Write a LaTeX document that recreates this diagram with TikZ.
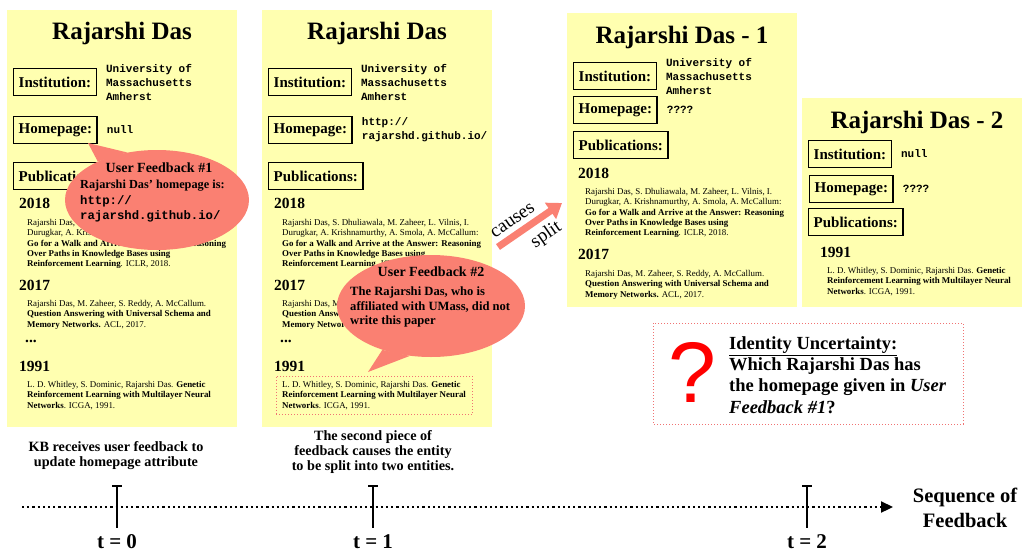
\documentclass[tikz,border=0pt]{standalone}
\usepackage{fontspec}
\setmainfont{Liberation Serif}
\setsansfont{Liberation Sans}
\setmonofont{Liberation Mono}
\usetikzlibrary{
	arrows.meta,
	positioning,
	shapes.geometric,
	fit
}
\definecolor{cardyellow}{RGB}{255,255,176}
\definecolor{salmon}{RGB}{250,128,114}
\definecolor{dotred}{RGB}{240,115,115}
\newcommand{\fs}[2]{\fontsize{#1}{#2}\selectfont}
\newcommand{\pubwalk}{Rajarshi Das, S. Dhuliawala, M. Zaheer, L. Vilnis, I.\\
Durugkar, A. Krishnamurthy, A. Smola, A. McCallum:\\
\textbf{Go for a Walk and Arrive at the Answer: Reasoning}\\
\textbf{Over Paths in Knowledge Bases using}\\
\textbf{Reinforcement Learning}. ICLR, 2018.}
\newcommand{\pubqa}{Rajarshi Das, M. Zaheer, S. Reddy, A. McCallum.\\
\textbf{Question Answering with Universal Schema and}\\
\textbf{Memory Networks.} ACL, 2017.}
\newcommand{\pubgen}{L. D. Whitley, S. Dominic, Rajarshi Das. \textbf{Genetic}\\
\textbf{Reinforcement Learning with Multilayer Neural}\\
\textbf{Networks}. ICGA, 1991.}

\begin{document}
\begin{tikzpicture}[x=1pt, y=-1pt,
		card/.style={fill=cardyellow},
		title/.style={font=\bfseries\fs{25}{30}, anchor=base},
		field/.style={draw, line width=1.4pt, font=\bfseries\fs{15}{18}, inner xsep=5pt, minimum height=27pt, anchor=west},
		val/.style={font=\ttfamily\bfseries\fs{11}{14}, align=left, anchor=west, inner sep=0pt},
		year/.style={font=\bfseries\fs{15.5}{18}, anchor=west, inner sep=0pt},
		pub/.style={font=\fs{8.9}{10.4}, align=left, anchor=north west, inner sep=0pt},
		bubble/.style={ellipse, fill=salmon, inner sep=0pt},
		fbtitle/.style={font=\bfseries\fs{14}{17}},
		fbbody/.style={font=\bfseries\fs{12.3}{15.5}, align=left, anchor=west, inner sep=0pt},
		note/.style={font=\bfseries\fs{14.2}{15}, align=center},
		tick/.style={line width=1.8pt, {Bar[width=10pt]}-},
		hint/.style={draw=dotred, dotted, line width=1pt}
	]
		\useasboundingbox (0,0) rectangle (1024,554);
		% entity cards
		\fill[card] (7,10) rectangle (237,427);
		\fill[card] (262,10) rectangle (492,427);
		\fill[card] (567,13) rectangle (797,307);
		\fill[card] (802,98) rectangle (1022,307);
		\foreach \c/\x/\home in {a/7/{null}, b/262/{http://\\rajarshd.github.io/}} {
			\node[title] (title-\c) at (\x+115,39.5) {Rajarshi Das};
			\node[field] (inst-\c) at (\x+6,82) {Institution:};
			\node[val, right=9pt of inst-\c] (instv-\c) {University of\\Massachusetts\\Amherst};
			\node[field] (home-\c) at (\x+6,130) {Homepage:};
			\node[val, right=9pt of home-\c] (homev-\c) {\home};
			\node[field] (publ-\c) at (\x+6,176) {Publications:};
			\node[year] (y18-\c) at (\x+12,203) {2018};
			\node[pub] (walk-\c) at (\x+20,219) {\pubwalk};
			\node[year] (y17-\c) at (\x+12,285) {2017};
			\node[pub] (qa-\c) at (\x+20,300) {\pubqa};
			\node[year] (more-\c) at (\x+18,341) {...};
			\node[year] (y91-\c) at (\x+12,366) {1991};
			\node[pub] (gen-\c) at (\x+20,381) {\pubgen};
		}
		\node[hint, fit=(gen-b), inner xsep=6pt, inner ysep=5pt] (genbox) {};
		% split entities
		\node[title] (title-c) at (682,43) {Rajarshi Das - 1};
		\node[field] (inst-c) at (573,76) {Institution:};
		\node[val, right=9pt of inst-c] (instv-c) {University of\\Massachusetts\\Amherst};
		\node[field] (home-c) at (573,110) {Homepage:};
		\node[val, right=9pt of home-c] (homev-c) {????};
		\node[field] (publ-c) at (573,145) {Publications:};
		\node[year] (y18-c) at (578,173) {2018};
		\node[pub] (walk-c) at (585,188) {\pubwalk};
		\node[year] (y17-c) at (578,254) {2017};
		\node[pub] (qa-c) at (585,270) {\pubqa};
		\node[title] (title-d) at (917,128) {Rajarshi Das - 2};
		\node[field] (inst-d) at (808,154) {Institution:};
		\node[val, right=9pt of inst-d] (instv-d) {null};
		\node[field] (home-d) at (809,189) {Homepage:};
		\node[val, right=9pt of home-d] (homev-d) {????};
		\node[field] (publ-d) at (808,222) {Publications:};
		\node[year] (y91-d) at (820,252) {1991};
		\node[pub] (gen-d) at (827,267) {\pubgen};
		% user feedback bubbles
		\node[bubble, minimum width=184pt, minimum height=100pt] (fb1) at (157,200) {};
		\coordinate (fb1tip) at (88,143);
		\fill[salmon] (fb1.147) -- (fb1tip) -- (fb1.122) -- cycle;
		\node[fbtitle] (fb1head) at (159,168) {User Feedback \#1};
		\node[fbbody] (fb1text) at (80,201.5) {Rajarshi Das' homepage is:\\{\ttfamily http://}\\{\ttfamily rajarshd.github.io/}};
		\node[bubble, minimum width=188pt, minimum height=102pt] (fb2) at (431,306) {};
		\coordinate (fb2tip) at (368,372);
		\fill[salmon] (fb2.222) -- (fb2tip) -- (fb2.247) -- cycle;
		\node[fbtitle] (fb2head) at (431,272) {User Feedback \#2};
		\node[fbbody, font=\bfseries\fs{12.6}{14.5}] (fb2text) at (350,307) {The Rajarshi Das, who is\\affiliated with UMass, did not\\write this paper};
		% causes split
		\coordinate (splitfrom) at (498,247);
		\coordinate (splitto) at (562,203);
		\draw[salmon, line width=7pt, -{Triangle[length=14pt, width=19pt]}] (splitfrom) -- (splitto)
			node[pos=0.35, sloped, above=2pt, text=black, font=\fs{19}{21}] (causes) {causes}
			node[pos=0.6, sloped, below=2pt, text=black, font=\fs{19}{21}] (split) {split};
		% identity uncertainty
		\draw[hint] (653,323) rectangle (963,424);
		\node[text=red, font=\sffamily\fs{86}{90}, inner sep=0pt] (qmark) at (692,372) {?};
		\node[font=\bfseries\fs{18.5}{21.3}, align=left, anchor=west, inner sep=0pt] (uncert) at (729,375) {\underline{Identity Uncertainty:}\\Which Rajarshi Das has\\the homepage given in \textit{User}\\\textit{Feedback \#1}?};
		% timeline
		\coordinate (tstart) at (22,507);
		\coordinate (tend) at (893,507);
		\draw[line width=2.2pt, dash pattern=on 2.2pt off 3pt, -{Triangle[length=12pt, width=11pt]}] (tstart) -- (tend);
		\foreach \t/\x in {0/117, 1/373, 2/807} {
			\coordinate (tk\t) at (\x,485);
			\coordinate (tb\t) at (\x,528);
			\draw[tick] (tk\t) -- (tb\t);
			\node[font=\bfseries\fs{21}{24}] (tlab\t) at (\x,542) {t = \t};
		}
		\node[note] (note0) at (116,455.5) {KB receives user feedback to\\update homepage attribute};
		\node[note] (note1) at (373,452.5) {The second piece of\\feedback causes the entity\\to be split into two entities.};
		\node[font=\bfseries\fs{20.5}{25}, align=center] (seq) at (965,507.5) {Sequence of\\Feedback};
	\end{tikzpicture}
\end{document}
